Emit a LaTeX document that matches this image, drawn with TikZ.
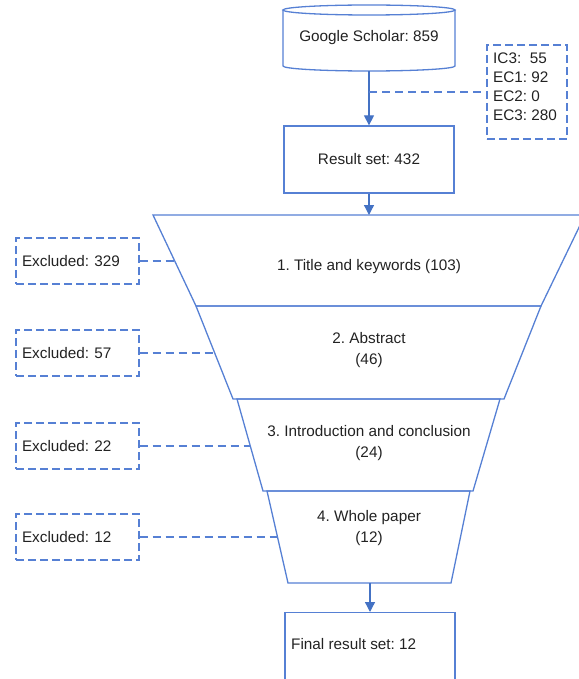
\documentclass[tikz,border=0pt]{standalone}
\usepackage{fontspec}
\setmainfont{Liberation Sans}
\usetikzlibrary{arrows.meta}
\definecolor{lineblue}{RGB}{86,128,212}
\definecolor{arrowblue}{RGB}{68,114,196}
\definecolor{txt}{RGB}{34,34,34}
\frenchspacing
\begin{document}
\begin{tikzpicture}[x=1pt,y=-1pt,
  every node/.style={text=txt,font=\frenchspacing\fontsize{15.3}{19}\selectfont},
  shapeline/.style={draw=lineblue,line width=1.3pt},
  dashbox/.style={draw=lineblue,line width=1.3pt,dash pattern=on 8pt off 4pt,rectangle,inner sep=0pt},
  dashline/.style={draw=lineblue,line width=1.4pt,dash pattern=on 8pt off 5pt},
  arr/.style={draw=arrowblue,line width=1.3pt,-{Triangle[width=10pt,length=10pt]}},
  plainbox/.style={shapeline,rectangle,inner sep=0pt}]
\useasboundingbox (0,0) rectangle (578,679);
% cylinder
\draw[shapeline,fill=white] (283,10) -- (283,66) arc[start angle=180,end angle=0,x radius=86,y radius=5] -- (455,10);
\draw[shapeline] (369,10) ellipse[x radius=86,y radius=5];
\node (gs) at (369,38) {Google Scholar: 859};
\coordinate (gsb) at (369,71);
% result set
\node[plainbox,minimum width=170pt,minimum height=67pt] (rs) at (369,159.5) {Result set: 432};
% IC box
\node[dashbox,minimum width=80pt,minimum height=94pt] (ic) at (527,92) {};
\node[align=left,anchor=north west,inner sep=0pt] (ictext) at (493,53) {IC3:\ \ 55\\EC1: 92\\EC2: 0\\EC3: 280};
\draw[arr] (gsb) -- (rs.north);
\coordinate (j1) at (369,92);
\draw[dashline] (j1) -- (ic.west);
% funnel
\draw[shapeline] (153,215) -- (585,215) -- (541,306) -- (196,306) -- cycle;
\draw[shapeline] (196,306) -- (541,306) -- (504,399) -- (233,399) -- cycle;
\draw[shapeline] (237,399) -- (500,399) -- (473,491) -- (263,491) -- cycle;
\draw[shapeline] (267,491) -- (470,491) -- (451,583) -- (288,583) -- cycle;
\coordinate (f1top) at (369,215);
\coordinate (f4bot) at (370,583);
\node (t1) at (369,267) {1. Title and keywords (103)};
\node[align=center] (t2) at (369,350.5) {2. Abstract\\[2pt](46)};
\node[align=center] (t3) at (369,443.5) {3. Introduction and conclusion\\[2pt](24)};
\node[align=center] (t4) at (369,528.5) {4. Whole paper\\[2pt](12)};
\coordinate (s1) at (175,261);
\coordinate (s2) at (215,353);
\coordinate (s3) at (250,446);
\coordinate (s4) at (278,537);
% excluded boxes
\node[dashbox,minimum width=123pt,minimum height=46pt,text width=111pt,align=left,inner xsep=6pt] (e1) at (77.5,261) {Excluded: 329};
\node[dashbox,minimum width=123pt,minimum height=46pt,text width=111pt,align=left,inner xsep=6pt] (e2) at (77.5,353) {Excluded: 57};
\node[dashbox,minimum width=123pt,minimum height=46pt,text width=111pt,align=left,inner xsep=6pt] (e3) at (77.5,446) {Excluded: 22};
\node[dashbox,minimum width=123pt,minimum height=46pt,text width=111pt,align=left,inner xsep=6pt] (e4) at (77.5,537) {Excluded: 12};
\draw[dashline] (e1.east) -- (s1);
\draw[dashline] (e2.east) -- (s2);
\draw[dashline] (e3.east) -- (s3);
\draw[dashline] (e4.east) -- (s4);
\draw[arr] (rs.south) -- (f1top);
% final
\node[plainbox,minimum width=170pt,minimum height=70pt,anchor=north] (fr) at (370,612) {};
\node[anchor=west,inner sep=0pt] (frt) at (291,644) {Final result set: 12};
\draw[arr] (f4bot) -- (fr.north);
\end{tikzpicture}
\end{document}
